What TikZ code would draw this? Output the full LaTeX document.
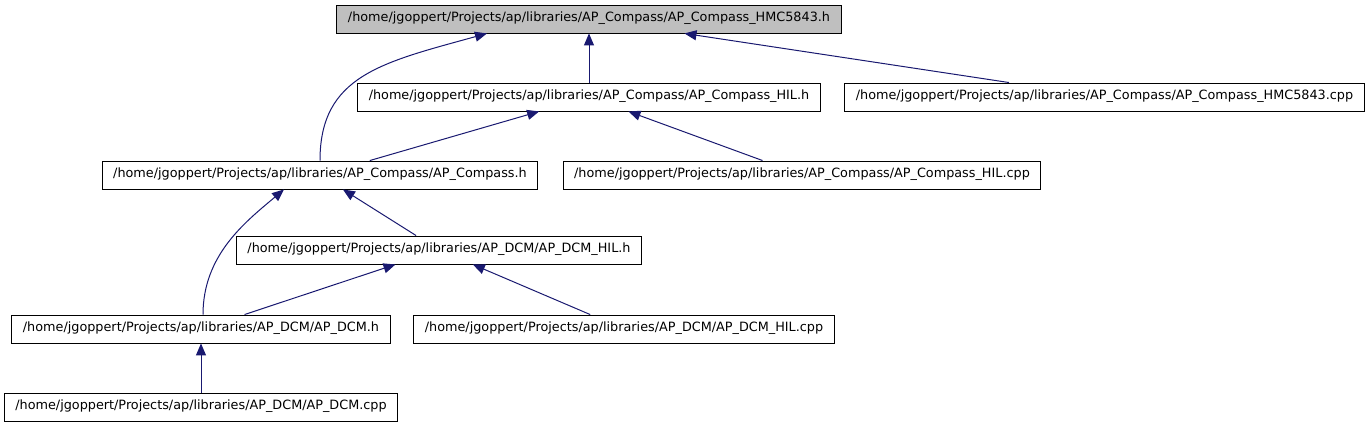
\documentclass[tikz,border=0pt]{standalone}
\usepackage{fontspec}
\setmainfont{DejaVu Sans}
\usetikzlibrary{arrows.meta}
\definecolor{edgeblue}{RGB}{25,25,112}
\definecolor{rootgray}{RGB}{191,191,191}
\begin{document}
\begin{tikzpicture}[x=1pt,y=1pt,
  file/.style={draw=black,line width=0.9pt,fill=white,inner xsep=11pt,inner ysep=0pt,
    minimum height=28pt,text height=9.5pt,text depth=3.5pt,font=\fontsize{12.8}{15}\selectfont},
  dep/.style={draw=edgeblue,line width=1pt,-{Triangle[length=12pt,width=10pt]}}]
\useasboundingbox (0,0) rectangle (1371,427);
\node[file,fill=rootgray] (top) at (589,408) {/home/jgoppert/Projects/ap/libraries/AP\_Compass/AP\_Compass\_HMC5843.h};
\node[file] (hilh) at (589,330) {/home/jgoppert/Projects/ap/libraries/AP\_Compass/AP\_Compass\_HIL.h};
\node[file] (hmccpp) at (1104.5,330) {/home/jgoppert/Projects/ap/libraries/AP\_Compass/AP\_Compass\_HMC5843.cpp};
\node[file] (compass) at (320,252) {/home/jgoppert/Projects/ap/libraries/AP\_Compass/AP\_Compass.h};
\node[file] (hilcpp) at (802,252) {/home/jgoppert/Projects/ap/libraries/AP\_Compass/AP\_Compass\_HIL.cpp};
\node[file] (dcmhilh) at (439,177) {/home/jgoppert/Projects/ap/libraries/AP\_DCM/AP\_DCM\_HIL.h};
\node[file] (dcmh) at (201,98) {/home/jgoppert/Projects/ap/libraries/AP\_DCM/AP\_DCM.h};
\node[file] (dcmhilcpp) at (624,98) {/home/jgoppert/Projects/ap/libraries/AP\_DCM/AP\_DCM\_HIL.cpp};
\node[file] (dcmcpp) at (201,20) {/home/jgoppert/Projects/ap/libraries/AP\_DCM/AP\_DCM.cpp};
\draw[dep] (hilh) -- (top);
\draw[dep] (hmccpp) -- (top);
\draw[dep] (compass.north) .. controls +(0,85) and +(-105,-29) .. ([xshift=-102pt]top.south);
\draw[dep] (compass) -- (hilh);
\draw[dep] (hilcpp) -- (hilh);
\draw[dep] (dcmhilh) -- (compass);
\draw[dep] ([xshift=2pt]dcmh.north) .. controls +(0,60) and +(-38,-32) .. ([xshift=-36pt]compass.south);
\draw[dep] (dcmh) -- (dcmhilh);
\draw[dep] (dcmhilcpp) -- (dcmhilh);
\draw[dep] (dcmcpp) -- (dcmh);
\end{tikzpicture}
\end{document}
